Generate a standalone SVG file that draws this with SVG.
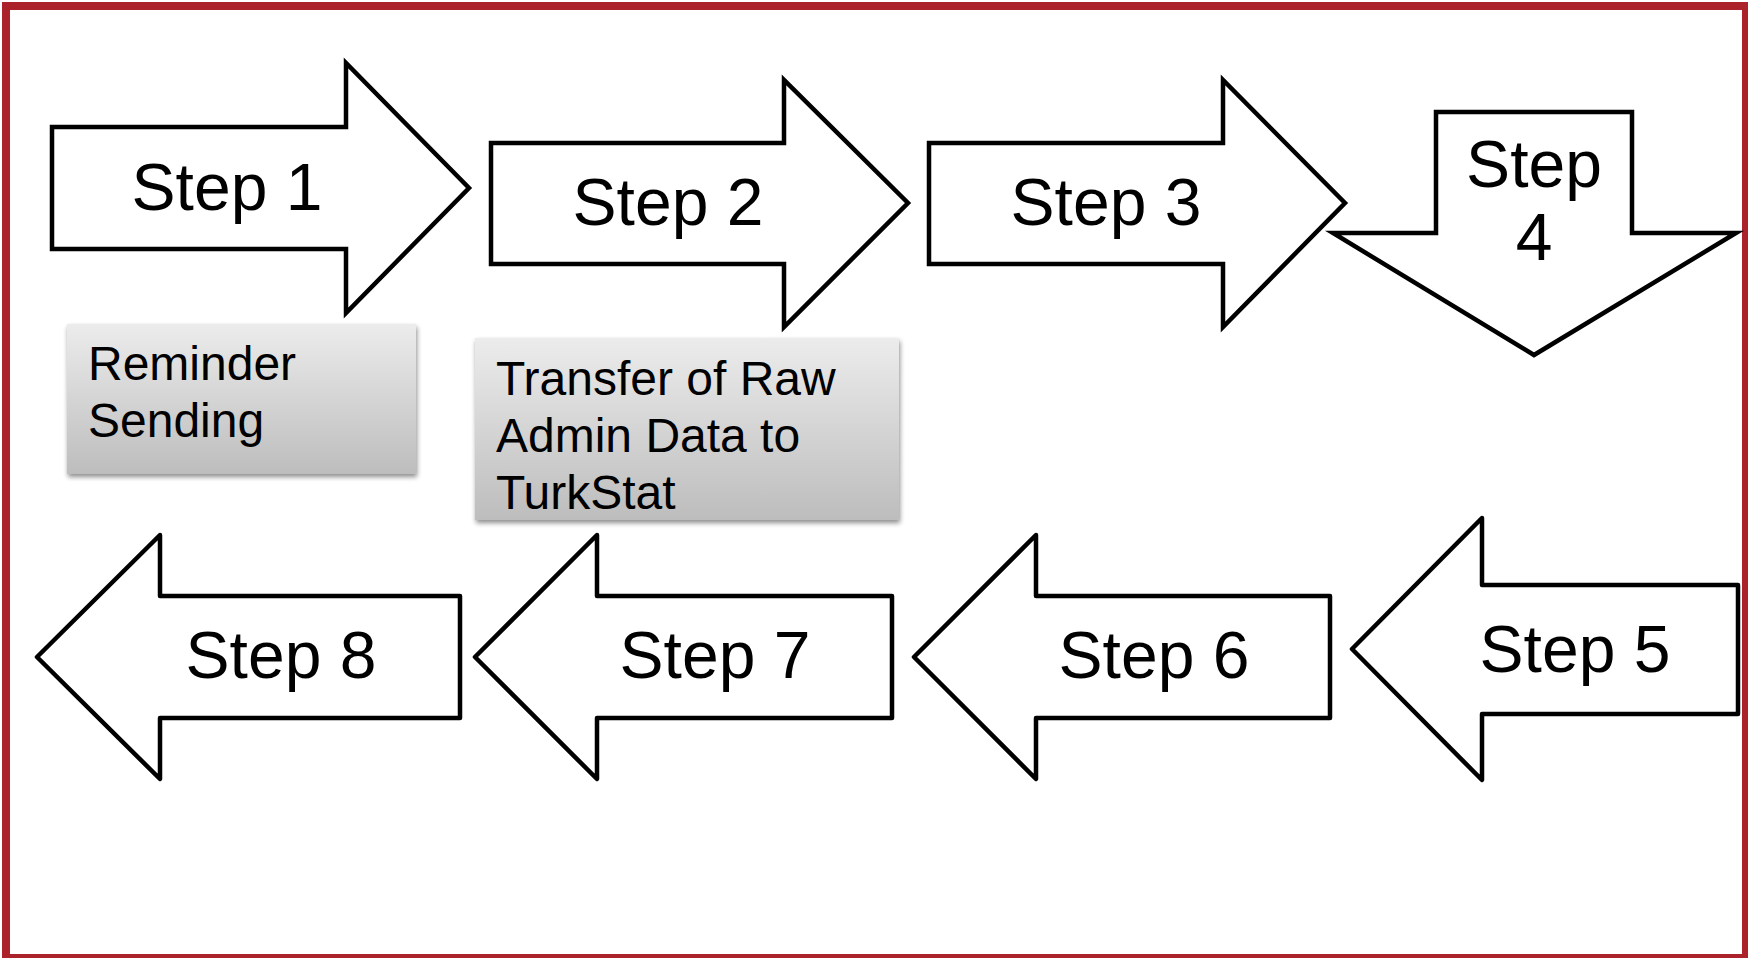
<svg xmlns="http://www.w3.org/2000/svg" width="1748" height="958" viewBox="0 0 1748 958">
  <style>
    .arrow { fill: #ffffff; stroke: #000000; stroke-width: 4.5; stroke-linejoin: miter; }
    .arrow-r { fill: #ffffff; stroke: #000000; stroke-width: 4.5; stroke-linejoin: round; }
    .step { font-family: "Liberation Sans", Arial, sans-serif; font-size: 66px; fill: #000000; text-anchor: middle; }
    .note { fill: url(#noteFill); filter: url(#noteShadow); }
    .note-text { font-family: "Liberation Sans", Arial, sans-serif; font-size: 48px; fill: #000000; }
  </style>
  <defs>
    <linearGradient id="noteFill" x1="0" y1="0" x2="0" y2="1">
      <stop offset="0" stop-color="#ececec"/>
      <stop offset="1" stop-color="#bdbdbd"/>
    </linearGradient>
    <filter id="noteShadow" x="-5%" y="-5%" width="110%" height="115%">
      <feGaussianBlur in="SourceAlpha" stdDeviation="2.5"/>
      <feOffset dx="1" dy="3" result="b"/>
      <feComponentTransfer><feFuncA type="linear" slope="0.45"/></feComponentTransfer>
      <feMerge><feMergeNode/><feMergeNode in="SourceGraphic"/></feMerge>
    </filter>
  </defs>

  <rect x="0" y="0" width="1748" height="958" fill="#ffffff"/>
  <!-- outer frame -->
  <rect x="6" y="6" width="1740" height="952" fill="none" stroke="#ab222a" stroke-width="8"/>

  <!-- no connectors: the arrows themselves show the flow -->
  <g id="connectors"></g>

  <g id="step1">
    <polygon class="arrow" points="52,127 346,127 346,63 469,188 346,313 346,249 52,249"/>
    <text class="step" x="227" y="210">Step 1</text>
  </g>
  <g id="step2">
    <polygon class="arrow" points="491,143 784,143 784,80 908,203 784,327 784,264 491,264"/>
    <text class="step" x="668" y="225">Step 2</text>
  </g>
  <g id="step3">
    <polygon class="arrow" points="929,143 1223,143 1223,80 1345,203 1223,327 1223,264 929,264"/>
    <text class="step" x="1106" y="225">Step 3</text>
  </g>
  <g id="step4">
    <polygon class="arrow" points="1436,112 1632,112 1632,233 1736,233 1534,355 1333,233 1436,233"/>
    <text class="step" x="1534" y="187">Step</text>
    <text class="step" x="1534" y="260">4</text>
  </g>
  <g id="step5">
    <polygon class="arrow-r" points="1738,585 1482,585 1482,518 1352,649 1482,780 1482,714 1738,714"/>
    <text class="step" x="1575" y="672">Step 5</text>
  </g>
  <g id="step6">
    <polygon class="arrow-r" points="1330,596 1036,596 1036,535 914,657 1036,779 1036,718 1330,718"/>
    <text class="step" x="1154" y="678">Step 6</text>
  </g>
  <g id="step7">
    <polygon class="arrow-r" points="892,596 597,596 597,535 475,657 597,779 597,718 892,718"/>
    <text class="step" x="715" y="678">Step 7</text>
  </g>
  <g id="step8">
    <polygon class="arrow-r" points="460,596 160,596 160,535 37,657 160,779 160,718 460,718"/>
    <text class="step" x="281" y="678">Step 8</text>
  </g>

  <g id="note-reminder">
    <rect class="note" x="67" y="324" width="349" height="150"/>
    <text class="note-text" x="88" y="380">Reminder</text>
    <text class="note-text" x="88" y="437">Sending</text>
  </g>
  <g id="note-transfer">
    <rect class="note" x="475" y="338" width="424" height="182"/>
    <text class="note-text" x="496" y="395">Transfer of Raw</text>
    <text class="note-text" x="496" y="452">Admin Data to</text>
    <text class="note-text" x="496" y="509">TurkStat</text>
  </g>
</svg>
